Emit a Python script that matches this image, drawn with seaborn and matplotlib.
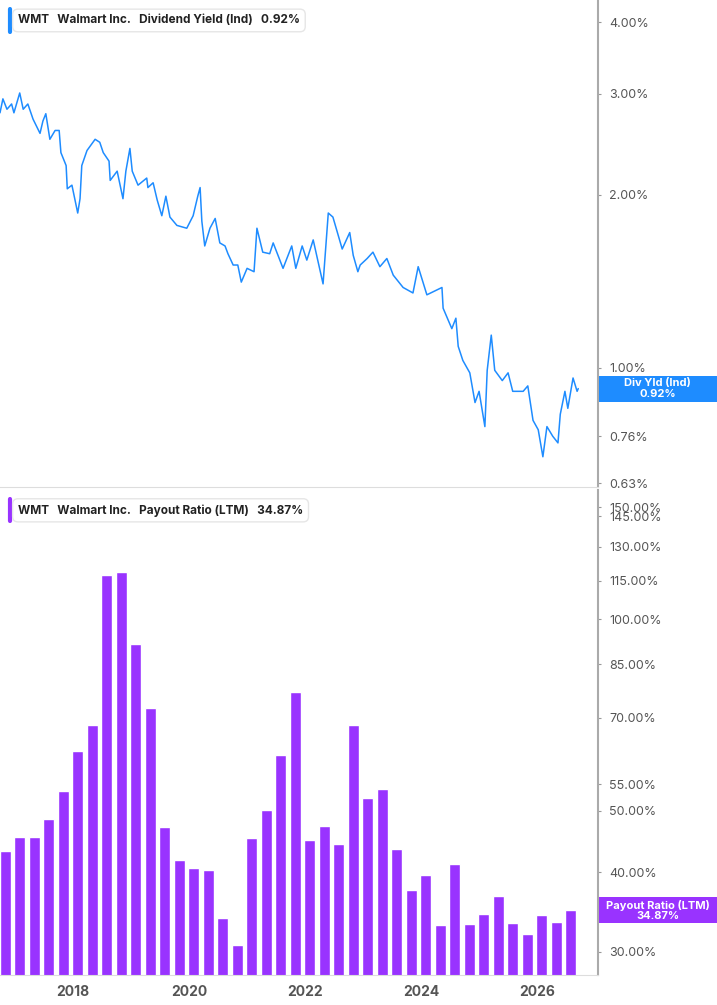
import numpy as np
import pandas as pd
import matplotlib
matplotlib.use("Agg")
import matplotlib.pyplot as plt
import seaborn as sns
from matplotlib.ticker import FixedLocator, FixedFormatter, NullLocator
from matplotlib.patches import Rectangle

sns.set_style("white")
plt.rcParams['font.family'] = ['Inter', 'DejaVu Sans']

# === DATOS ===
yld_years = [2016.74, 2016.79, 2016.86, 2016.94, 2016.98, 2017.08, 2017.14, 2017.22, 2017.31, 2017.43,
             2017.48, 2017.53, 2017.60, 2017.69, 2017.76, 2017.79, 2017.88, 2017.90, 2017.98, 2018.08,
             2018.12, 2018.15, 2018.24, 2018.38, 2018.46, 2018.52, 2018.62, 2018.64, 2018.76, 2018.86,
             2018.91, 2018.98, 2019.02, 2019.12, 2019.27, 2019.29, 2019.38, 2019.45, 2019.53, 2019.60,
             2019.67, 2019.79, 2019.96, 2020.07, 2020.15, 2020.19, 2020.22, 2020.27, 2020.36, 2020.45,
             2020.53, 2020.62, 2020.67, 2020.76, 2020.84, 2020.90, 2021.00, 2021.12, 2021.17, 2021.27,
             2021.39, 2021.45, 2021.62, 2021.77, 2021.84, 2021.95, 2022.03, 2022.14, 2022.31, 2022.40,
             2022.48, 2022.64, 2022.77, 2022.83, 2022.91, 2022.95, 2023.07, 2023.17, 2023.29, 2023.41,
             2023.52, 2023.69, 2023.86, 2023.95, 2024.10, 2024.36, 2024.38, 2024.53, 2024.60, 2024.64,
             2024.72, 2024.84, 2024.93, 2025.00, 2025.10, 2025.14, 2025.21, 2025.27, 2025.40, 2025.50,
             2025.58, 2025.76, 2025.84, 2025.93, 2026.02, 2026.10, 2026.17, 2026.27, 2026.36, 2026.40,
             2026.48, 2026.53, 2026.62, 2026.69, 2026.71]
yld_vals = [2.78, 2.94, 2.82, 2.88, 2.78, 3.01, 2.82, 2.88, 2.71, 2.56,
            2.69, 2.77, 2.50, 2.59, 2.59, 2.37, 2.25, 2.05, 2.08, 1.86,
            1.97, 2.25, 2.39, 2.50, 2.47, 2.37, 2.29, 2.12, 2.20, 1.97,
            2.20, 2.41, 2.20, 2.08, 2.14, 2.06, 2.10, 1.96, 1.84, 1.99,
            1.83, 1.77, 1.75, 1.84, 1.99, 2.06, 1.80, 1.63, 1.75, 1.82,
            1.65, 1.63, 1.58, 1.51, 1.51, 1.41, 1.49, 1.47, 1.75, 1.59,
            1.58, 1.65, 1.49, 1.63, 1.49, 1.63, 1.54, 1.67, 1.40, 1.86,
            1.83, 1.61, 1.72, 1.57, 1.47, 1.51, 1.55, 1.59, 1.50, 1.55,
            1.45, 1.38, 1.35, 1.50, 1.34, 1.38, 1.27, 1.17, 1.22, 1.09,
            1.03, 0.98, 0.87, 0.91, 0.79, 0.99, 1.14, 0.99, 0.95, 0.98,
            0.91, 0.91, 0.93, 0.81, 0.78, 0.70, 0.79, 0.76, 0.74, 0.83,
            0.91, 0.85, 0.96, 0.91, 0.92]

payout_vals = [43.2, 45.5, 45.5, 48.5, 53.7, 62.1, 68.1, 117.3, 118.4, 91.4,
               72.6, 47.2, 41.9, 40.7, 40.3, 33.9, 30.8, 45.3, 50.1, 61.1,
               76.8, 45.0, 47.3, 44.3, 68.3, 52.4, 54.0, 43.5, 37.5, 39.6,
               33.1, 41.2, 33.2, 34.4, 36.7, 33.3, 32.0, 34.3, 33.4, 34.87]
quarters = pd.period_range("2016Q4", periods=len(payout_vals), freq="Q")
bar_years = [q.year + (q.quarter - 1) / 4 + 0.08 for q in quarters]

yld_ticks = [4.0, 3.0, 2.0, 1.0, 0.89, 0.76, 0.63]
pay_ticks = [150, 145, 130, 115, 100, 85, 70, 55, 50, 40, 30]
year_ticks = [2018, 2020, 2022, 2024, 2026]

BLUE = '#1e8cff'
PURPLE = '#9933ff'
GREY = '#555555'

fig = plt.figure(figsize=(7.17, 10.05), dpi=100)
ax1 = fig.add_axes([0, 0.5154, 0.834, 0.4846])
ax2 = fig.add_axes([0, 0.0299, 0.834, 0.4826])

def style_axis(ax, ticks, fmt):
    ax.yaxis.tick_right()
    ax.set_yscale('log')
    ax.yaxis.set_major_locator(FixedLocator(ticks))
    ax.yaxis.set_major_formatter(FixedFormatter([fmt(t) for t in ticks]))
    ax.yaxis.set_minor_locator(NullLocator())
    ax.tick_params(axis='y', colors='#999999', labelcolor=GREY, labelsize=9, length=2, pad=6)
    for s in ['top', 'left']:
        ax.spines[s].set_visible(False)
    ax.spines['right'].set_color('#aaaaaa')
    ax.spines['right'].set_linewidth(1.5)
    ax.spines['bottom'].set_color('#dddddd')
    ax.set_xlim(2016.74, 2027.05)
    ax.set_xlabel('')
    ax.set_ylabel('')

def value_tag(ax, value, text, color):
    # etiqueta a la derecha, de la espina hasta el borde de la figura
    y_fig = fig.transFigure.inverted().transform(ax.transData.transform((2020, value)))[1]
    h = 26 / 1005
    fig.patches.append(Rectangle((0.835, y_fig - h / 2), 0.165, h, transform=fig.transFigure,
                                 fc=color, ec='none', zorder=10))
    fig.text(0.9175, y_fig, text, ha='center', va='center', fontsize=8, fontweight='bold',
             color='white', linespacing=1.05, zorder=11)

# === PANEL SUPERIOR ===
df = pd.DataFrame({'year': yld_years, 'yld': yld_vals})
sns.lineplot(data=df, x='year', y='yld', ax=ax1, color=BLUE, linewidth=1.1)
style_axis(ax1, yld_ticks, lambda t: f'{t:.2f}%')
ax1.set_ylim(0.62, 4.37)
ax1.set_xticks([])

# === PANEL INFERIOR ===
ax2.bar(bar_years, payout_vals, width=0.19, color=PURPLE, align='center')
style_axis(ax2, pay_ticks, lambda t: f'{t:.2f}%')
ax2.set_ylim(27.6, 159.6)
ax2.set_xticks(year_ticks)
ax2.set_xticklabels([str(y) for y in year_ticks])
ax2.tick_params(axis='x', colors='#cccccc', labelcolor=GREY, labelsize=10, length=4)
for lab in ax2.get_xticklabels():
    lab.set_fontweight('bold')

value_tag(ax1, 0.92, 'Div Yld (Ind)\n0.92%', BLUE)
value_tag(ax2, 34.87, 'Payout Ratio (LTM)\n34.87%', PURPLE)

# Leyendas tipo etiqueta
def legend_box(ax, label, value, color):
    ax.text(0.03, 0.958, f'WMT   Walmart Inc.   {label}   {value}', transform=ax.transAxes,
            fontsize=8.5, fontweight='bold', color='#222222', va='center', ha='left',
            bbox=dict(boxstyle='round,pad=0.45', fc='white', ec='#e6e6e6'))
    ax.plot([0.017, 0.017], [0.935, 0.981], transform=ax.transAxes, color=color, lw=3,
            solid_capstyle='round')

legend_box(ax1, 'Dividend Yield (Ind)', '0.92%', BLUE)
legend_box(ax2, 'Payout Ratio (LTM)', '34.87%', PURPLE)

fig.savefig('out.png', dpi=100)
